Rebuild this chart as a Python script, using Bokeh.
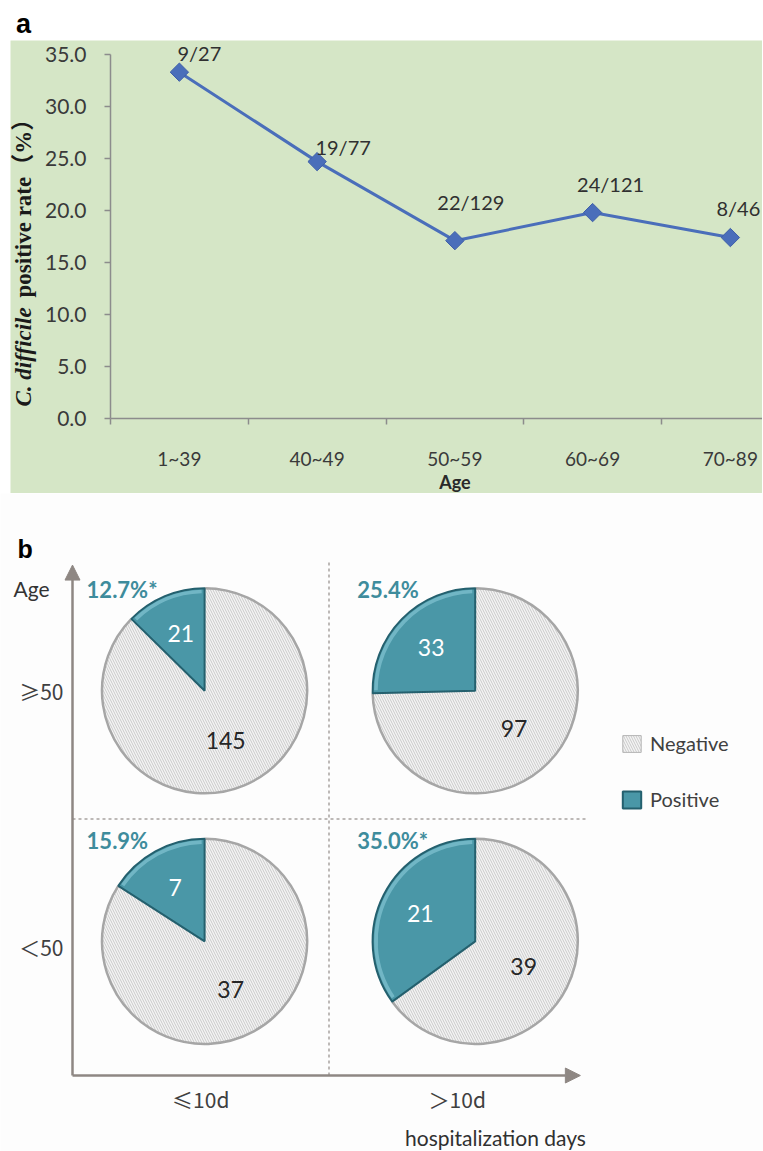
import math
from bokeh.plotting import figure
from bokeh.models import (Div, FixedTicker, NumeralTickFormatter, Label, Arrow, NormalHead,
                          Legend, LegendItem, Range1d)
from bokeh.layouts import column
from bokeh.core.properties import value
from bokeh.embed import file_html
from bokeh.resources import INLINE

# ---------------- data: panel a ----------------
age_groups = ["1~39", "40~49", "50~59", "60~69", "70~89"]
positive_rate = [33.3, 24.7, 17.1, 19.8, 17.4]
rate_labels = ["9/27", "19/77", "22/129", "24/121", "8/46"]
y_ticks = [0, 5, 10, 15, 20, 25, 30, 35]

# ---------------- data: panel b ----------------
hosp_groups = ["≤10d", "＞10d"]
age_bands = ["＜50", "≥50"]
pie_hosp = ["≤10d", "＞10d", "≤10d", "＞10d"]
pie_age = ["≥50", "≥50", "＜50", "＜50"]
positive_n = [21, 33, 7, 21]
negative_n = [145, 97, 37, 39]
pct_labels = ["12.7%*", "25.4%", "15.9%", "35.0%*"]

# ---------------- layout / style constants ----------------
FONT = "Lato"
SERIF = "Liberation Serif, Noto Sans CJK SC"
GREEN = "#D5E6C6"
AXIS_GRAY = "#8C8C8C"
TXT = "#3A3A3A"
label_dx = [20, 26, 16, 18, 8]
label_dy = [-19, -15, -39, -29, -30]
col_shift = [0.015, 0.07]
row_shift = [0.023, 0.0]

# panel a: figure spans page x 10..762, y 40..493; axes at x=110 (page), y=418 (page)
UA = 137.75
UY = 10.4
def ax(px):
    return -0.5 + (px - 110) / UA
def ay(py):
    return (418 - py) / UY

div_a = Div(text='<span style="position:relative; left:16px; top:5px;">a</span>',
            width=60, height=40, margin=(0, 0, 0, 0),
            styles={"font-family": "Liberation Sans, Arial", "font-weight": "bold",
                    "font-size": "27px", "line-height": "39px", "color": "#000000"})

xa = list(range(len(age_groups)))
pa = figure(width=752, height=453, title=None,
            x_range=Range1d(ax(10), ax(762)), y_range=Range1d(ay(493), ay(40)),
            output_backend="svg", toolbar_location=None, min_border=0,
            margin=(0, 0, 0, 10), background_fill_color=GREEN, border_fill_color=GREEN,
            outline_line_color=None)
pa.grid.visible = False

xax = pa.xaxis[0]
xax.fixed_location = 0
xax.bounds = (-0.5, ax(762))
xax.ticker = FixedTicker(ticks=xa, minor_ticks=[i - 0.5 for i in range(len(age_groups) + 1)])
xax.major_label_overrides = {i: g for i, g in enumerate(age_groups)}
xax.major_tick_line_color = None
xax.major_tick_out = 0
xax.major_tick_in = 0
xax.minor_tick_line_color = AXIS_GRAY
xax.minor_tick_line_width = 1.5
xax.minor_tick_out = 6
xax.minor_tick_in = 0
xax.major_label_standoff = 22
xax.major_label_text_font = FONT
xax.major_label_text_font_size = "19px"
xax.major_label_text_color = TXT
xax.axis_line_color = AXIS_GRAY
xax.axis_line_width = 1.5

yax = pa.yaxis[0]
yax.fixed_location = -0.5
yax.bounds = (0, 35)
yax.ticker = FixedTicker(ticks=y_ticks)
yax.formatter = NumeralTickFormatter(format="0.0")
yax.major_tick_line_color = AXIS_GRAY
yax.major_tick_line_width = 1.5
yax.major_tick_out = 6
yax.major_tick_in = 0
yax.minor_tick_line_color = None
yax.major_label_standoff = 18
yax.major_label_text_font = FONT
yax.major_label_text_font_size = "21px"
yax.major_label_text_color = TXT
yax.axis_line_color = AXIS_GRAY
yax.axis_line_width = 1.5

pa.line(xa, positive_rate, line_color="#4A6EBA", line_width=3)
pa.scatter(xa, positive_rate, marker="square", size=13, angle=math.pi / 4,
           fill_color="#4A6EBA", line_color="#3F5FA8", line_width=1)
pa.text(x=xa, y=positive_rate, text=rate_labels, x_offset=label_dx, y_offset=label_dy,
        text_align="center", text_baseline="middle", text_font=value(FONT),
        text_font_size="20px", text_color="#303030")

pa.add_layout(Label(x=ax(23), y=ay(406), text="C. difficile", angle=math.pi / 2,
                    text_align="left", text_baseline="middle", text_font=SERIF,
                    text_font_style="bold italic", text_font_size="23px", text_color="#1A1A1A"))
pa.add_layout(Label(x=ax(23), y=ay(297), text="positive rate（%）", angle=math.pi / 2,
                    text_align="left", text_baseline="middle", text_font=SERIF,
                    text_font_style="bold", text_font_size="23px", text_color="#1A1A1A"))
pa.add_layout(Label(x=2, y=ay(481), text="Age", text_align="center", text_baseline="middle",
                    text_font=FONT, text_font_style="bold", text_font_size="18px",
                    text_color="#2A2A2A"))

# ---------------- panel b ----------------
# figure spans page y 493..1151; axes at page x=72, y=1075
UB = 256.5
def bx(px):
    return -0.5 + (px - 72) / UB
def by(py):
    return -0.5 + (1075 - py) / UB

pb = figure(width=763, height=658, title=None,
            x_range=Range1d(bx(0), bx(763)), y_range=Range1d(by(1151), by(493)),
            output_backend="svg", toolbar_location=None, min_border=0,
            background_fill_color="#FDFDFD", border_fill_color="#FDFDFD", outline_line_color=None)
pb.grid.visible = False

bxa = pb.xaxis[0]
bxa.fixed_location = -0.5
bxa.ticker = FixedTicker(ticks=list(range(len(hosp_groups))))
bxa.major_label_overrides = {i: g for i, g in enumerate(hosp_groups)}
bya = pb.yaxis[0]
bya.fixed_location = -0.5
bya.ticker = FixedTicker(ticks=list(range(len(age_bands))))
bya.major_label_overrides = {i: g for i, g in enumerate(age_bands)}
for a in (bxa, bya):
    a.axis_line_color = None
    a.major_tick_line_color = None
    a.minor_tick_line_color = None
    a.major_tick_out = 0
    a.major_tick_in = 0
    a.major_label_text_font = "Noto Sans CJK SC"
    a.major_label_text_font_size = "21px"
    a.major_label_text_color = "#404040"
bxa.major_label_standoff = 8
bya.major_label_standoff = 9

GRAY_ARROW = "#8E8783"
nb = len(hosp_groups) - 0.5
na = len(age_bands) - 0.5
pb.add_layout(Arrow(end=NormalHead(size=15, fill_color=GRAY_ARROW, line_color=GRAY_ARROW),
                    x_start=-0.5, y_start=-0.5, x_end=-0.5, y_end=na - 0.01,
                    line_color=GRAY_ARROW, line_width=2.5))
pb.add_layout(Arrow(end=NormalHead(size=15, fill_color=GRAY_ARROW, line_color=GRAY_ARROW),
                    x_start=-0.5, y_start=-0.5, x_end=nb - 0.02, y_end=-0.5,
                    line_color=GRAY_ARROW, line_width=2.5))
pb.segment(x0=[0.5, -0.5], y0=[-0.5, 0.5], x1=[0.5, nb], y1=[na, 0.5],
           line_color="#A8A2A0", line_width=1.5, line_dash="3 3")

R = 0.40
cx = [hosp_groups.index(h) + col_shift[hosp_groups.index(h)] for h in pie_hosp]
cy = [age_bands.index(a) + row_shift[age_bands.index(a)] for a in pie_age]
frac = [p / (p + n) for p, n in zip(positive_n, negative_n)]
start = [math.pi / 2] * len(frac)
split = [math.pi / 2 + 2 * math.pi * f for f in frac]
full = [math.pi / 2 + 2 * math.pi] * len(frac)

neg_r = pb.wedge(x=cx, y=cy, radius=R, start_angle=split, end_angle=full,
                 fill_color="#F4F4F4", hatch_pattern="left_diagonal_line",
                 hatch_color="#CACACA", hatch_scale=5, hatch_weight=1,
                 line_color="#B4B4B4", line_width=1)
pb.arc(x=cx, y=cy, radius=R, start_angle=split, end_angle=full,
       line_color="#A6A6A6", line_width=2.5)
pos_r = pb.wedge(x=cx, y=cy, radius=R, start_angle=start, end_angle=split,
                 fill_color="#4A97A7", line_color="#24606E", line_width=2)
pb.annular_wedge(x=cx, y=cy, inner_radius=R * 0.95, outer_radius=R * 0.985,
                 start_angle=[s + 0.03 for s in start], end_angle=[e - 0.03 for e in split],
                 fill_color="#8CCCD8", fill_alpha=0.6, line_color=None)

mid_pos = [(s + e) / 2 for s, e in zip(start, split)]
mid_neg = [(s + e) / 2 for s, e in zip(split, full)]
pb.text(x=[x + 0.6 * R * math.cos(m) for x, m in zip(cx, mid_pos)],
        y=[y + 0.6 * R * math.sin(m) for y, m in zip(cy, mid_pos)],
        text=[str(v) for v in positive_n], text_align="center", text_baseline="middle",
        text_font=value(FONT), text_font_size="23px", text_color="#FFFFFF")
pb.text(x=[x + 0.53 * R * math.cos(m) for x, m in zip(cx, mid_neg)],
        y=[y + 0.53 * R * math.sin(m) for y, m in zip(cy, mid_neg)],
        text=[str(v) for v in negative_n], text_align="center", text_baseline="middle",
        text_font=value(FONT), text_font_size="23px", text_color="#262626")
pb.text(x=[x - 0.46 for x in cx], y=[y + 0.395 for y in cy], text=pct_labels,
        text_align="left", text_baseline="middle", text_font=value(FONT),
        text_font_style="bold", text_font_size="22px", text_color="#3E8C9C")

legend = Legend(items=[LegendItem(label="Negative", renderers=[neg_r]),
                       LegendItem(label="Positive", renderers=[pos_r])],
                location=(620, 1151 - 811), padding=0, margin=0, spacing=32,
                glyph_width=23, glyph_height=21, label_height=21, label_standoff=7,
                label_text_font=FONT, label_text_font_size="20px", label_text_color="#404040",
                border_line_color=None, background_fill_alpha=0)
pb.add_layout(legend)

pb.add_layout(Label(x=bx(17), y=by(548), text="b", text_align="left",
                    text_baseline="alphabetic", text_font="Liberation Sans",
                    text_font_style="bold", text_font_size="25px", text_color="#000000"))
pb.add_layout(Label(x=bx(13), y=by(588), text="Age", text_align="left",
                    text_baseline="middle", text_font=FONT, text_font_size="21px",
                    text_color="#333333"))
pb.add_layout(Label(x=bx(495), y=by(1137), text="hospitalization days", text_align="center",
                    text_baseline="middle", text_font=FONT, text_font_size="21px",
                    text_color="#303030"))

layout = column(div_a, pa, pb, spacing=0)
open("out.html", "w").write(file_html(layout, INLINE))
